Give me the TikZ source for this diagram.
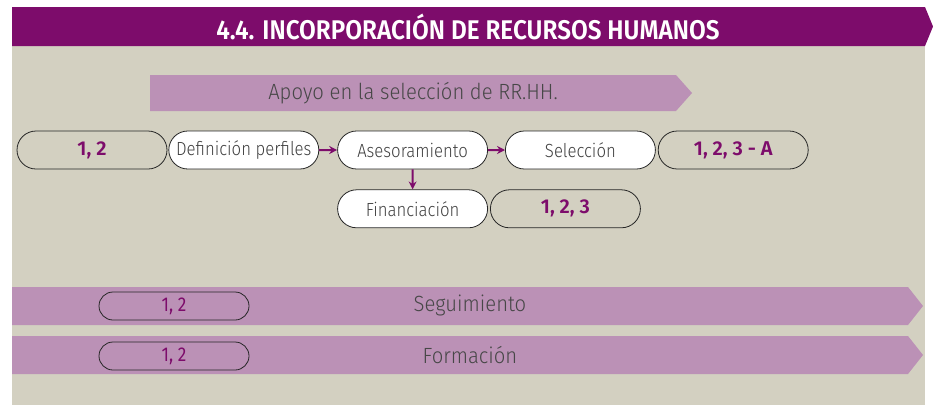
\documentclass[tikz,border=0pt]{standalone}
\usepackage{fontspec}
\setmainfont{Fira Sans}
\newfontfamily\lightfont{Fira Sans Light}[FakeStretch=0.88]
\newfontfamily\bandfont{Fira Sans Light}[FakeStretch=0.92]
\newfontfamily\numfont{Fira Sans}[FakeStretch=0.86]
\newfontfamily\codefont{Fira Sans SemiBold}
\newfontfamily\titlefont{Fira Sans SemiBold}[FakeStretch=0.9]
\usetikzlibrary{positioning,shapes.misc,arrows.meta}

\definecolor{hrpurple}{HTML}{7D0C6B}
\definecolor{hrlilac}{HTML}{BB91B6}
\definecolor{hrbeige}{HTML}{D3D0C1}

\tikzset{
  pill/.style={rounded rectangle, draw=black!85, line width=0.8pt,
    minimum width=158pt, minimum height=38pt, inner xsep=4pt,
    font=\lightfont\fontsize{19}{22}\selectfont, text=black!75},
  whitepill/.style={pill, fill=white},
  codepill/.style={pill, font=\codefont\fontsize{20}{23}\selectfont, text=hrpurple},
  bandpill/.style={pill, minimum height=28pt,
    font=\numfont\fontsize{20}{23}\selectfont, text=hrpurple},
  bandtext/.style={font=\bandfont\fontsize{22}{25}\selectfont, text=black!72},
  flow/.style={-{Stealth[length=8pt,width=8pt]}, hrpurple, line width=2pt}
}

\begin{document}
\begin{tikzpicture}[x=1pt, y=-1pt]
  \useasboundingbox (0,0) rectangle (933,405);
  % background and header
  \fill[hrbeige] (12,46) rectangle (925,405);
  \fill[hrpurple] (12,7) -- (925,7) -- (933,26.5) -- (925,46) -- (12,46) -- cycle;
  \node[font=\titlefont\fontsize{27}{30}\selectfont, text=white] (title) at (468,27)
    {4.4. INCORPORACIÓN DE RECURSOS HUMANOS};

  % bands
  \fill[hrlilac] (150,75) -- (676,75) -- (692,93) -- (676,111) -- (150,111) -- cycle;
  \fill[hrlilac] (12,287) -- (908,287) -- (923,306) -- (908,325) -- (12,325) -- cycle;
  \fill[hrlilac] (12,336) -- (908,336) -- (923,355) -- (908,374) -- (12,374) -- cycle;
  \node[bandtext] (apoyo) at (413,93) {Apoyo en la selección de RR.HH.};
  \node[bandtext] (seguim) at (470,305) {Seguimiento};
  \node[bandtext] (formac) at (470,355) {Formación};
  \node[bandpill] (segcode) at (174,306) {1, 2};
  \node[bandpill] (forcode) at (174,356) {1, 2};

  % selection flow
  \node[codepill] (code12) at (92,150) {1, 2};
  \node[whitepill, right=1pt of code12] (perfiles) {Definición perfiles};
  \node[whitepill, right=18pt of perfiles] (asesor) {Asesoramiento};
  \node[whitepill, right=17pt of asesor] (selecc) {Selección};
  \node[codepill, right=2pt of selecc] (code123a) {1, 2, 3 - A};
  \node[whitepill, below=20pt of asesor] (financ) {Financiación};
  \node[codepill, right=2pt of financ] (code123) {1, 2, 3};

  \draw[flow] (perfiles) -- (asesor);
  \draw[flow] (asesor) -- (selecc);
  \draw[flow] (asesor) -- (financ);
\end{tikzpicture}
\end{document}
